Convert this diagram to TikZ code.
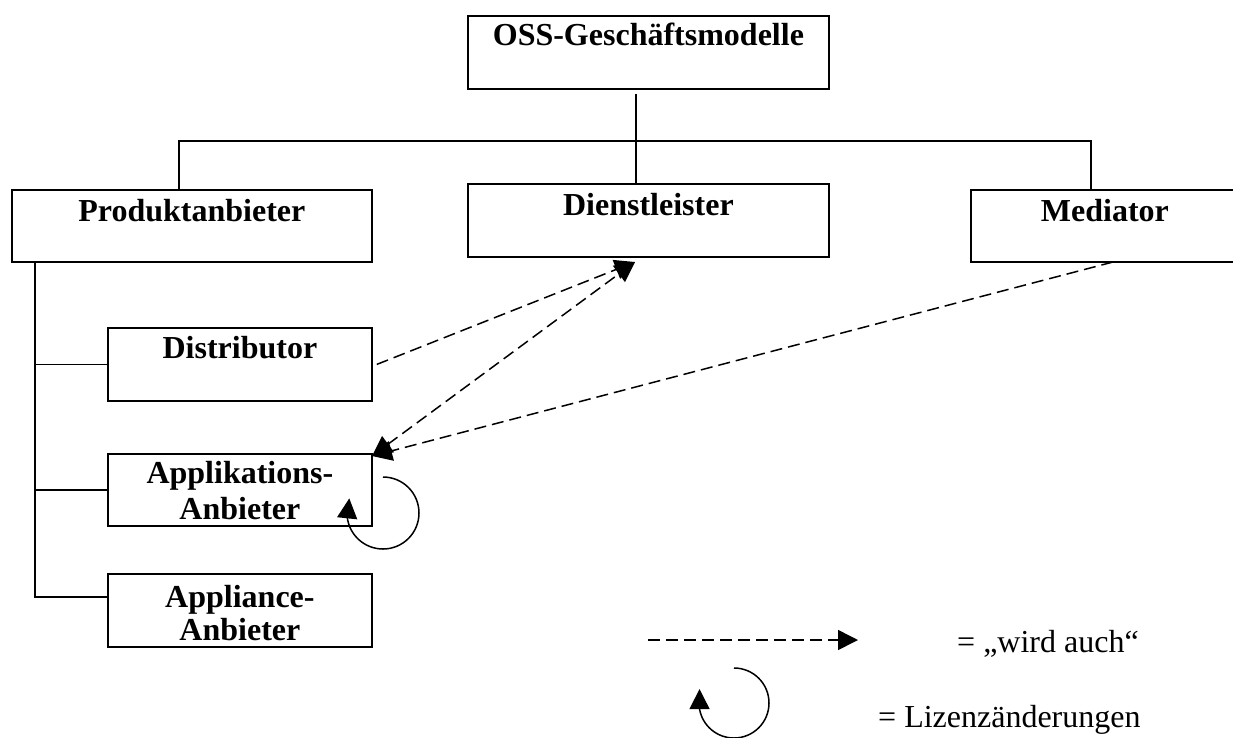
\documentclass[tikz,border=0pt]{standalone}
\usepackage{fontspec}
\setmainfont{Liberation Serif}
\usetikzlibrary{arrows.meta}
\begin{document}
\begin{tikzpicture}[x=1pt,y=-1pt,
  box/.style={draw, line width=1.8pt, inner sep=0pt, anchor=north west, align=center,
    font=\bfseries\fontsize{32}{36}\selectfont},
  tree/.style={line width=1.5pt},
  tip/.style={-{Triangle[length=20pt,width=20pt]}},
  dep/.style={line width=1.5pt, dash pattern=on 12pt off 6pt, tip},
  loopst/.style={line width=1.5pt, tip},
  legtext/.style={anchor=base west, inner sep=0pt, font=\fontsize{32}{36}\selectfont}
]
\useasboundingbox (0,0) rectangle (1233,737);
\clip (0,0) rectangle (1233,737);

% boxes
\node[box, text width=361pt, text height=30pt, text depth=43pt] (oss) at (467,15) {OSS-Geschäftsmodelle};
\node[box, text width=360pt, text height=32pt, text depth=40pt] (prod) at (11,189) {Produktanbieter};
\node[box, text width=361pt, text height=32pt, text depth=41pt] (dienst) at (467,183) {Dienstleister};
\node[box, text width=268pt, text height=32pt, text depth=40pt] (med) at (970,189) {Mediator};
\node[box, text width=264pt, text height=31pt, text depth=42pt] (dist) at (107,327) {Distributor};
\node[box, text width=264pt, text height=30pt, text depth=42pt] (appl) at (107,453) {Applikations-\\Anbieter};
\node[box, text width=264pt, text height=34pt, text depth=39pt] (appc) at (107,573) {Appliance-\\[-3pt]Anbieter};

% tree connectors
\coordinate (hub) at (636,141);
\coordinate (lp) at (179,141);
\coordinate (rp) at (1091,141);
\coordinate (spine) at (35,261);
\coordinate (ac) at (107,597);
\draw[tree] ([yshift=-4pt]oss.south -| hub) -- (dienst.north -| hub);
\draw[tree] (prod.north -| lp) -- (lp) -- (rp) -- (med.north -| rp);
\draw[tree] (spine) -- (spine |- ac) -- (ac);
\draw[tree] (spine |- dist.west) -- (dist.west);
\draw[tree] (spine |- appl.west) -- (appl.west);

% dashed "wird auch" arrows
\coordinate (dtip) at (635,262);
\coordinate (atip) at (372,456);
\coordinate (mstart) at (1113,262);
\draw[dep] ([xshift=4pt]dist.east) -- (dtip);
\draw[dep, {Triangle[length=20pt,width=20pt]}-{Triangle[length=20pt,width=20pt]}] (atip) -- (dtip);
\draw[dep] (mstart) -- (atip);

% self loop
\coordinate (loopc) at (383,513);
\draw[loopst] (loopc) ++(-90:36) arc[start angle=-90, end angle=173, radius=36] -- ++(2,-19);

% legend
\coordinate (l1) at (648,640);
\coordinate (l2) at (858,640);
\draw[dep] (l1) -- (l2);
\node[legtext] (lg1) at (957,652) {= „wird auch“};
\coordinate (legc) at (734,703);
\draw[loopst] (legc) ++(-90:35) arc[start angle=-90, end angle=170, radius=35] -- ++(0,-20);
\node[legtext] (lg2) at (878,727) {= Lizenzänderungen};
\end{tikzpicture}
\end{document}
